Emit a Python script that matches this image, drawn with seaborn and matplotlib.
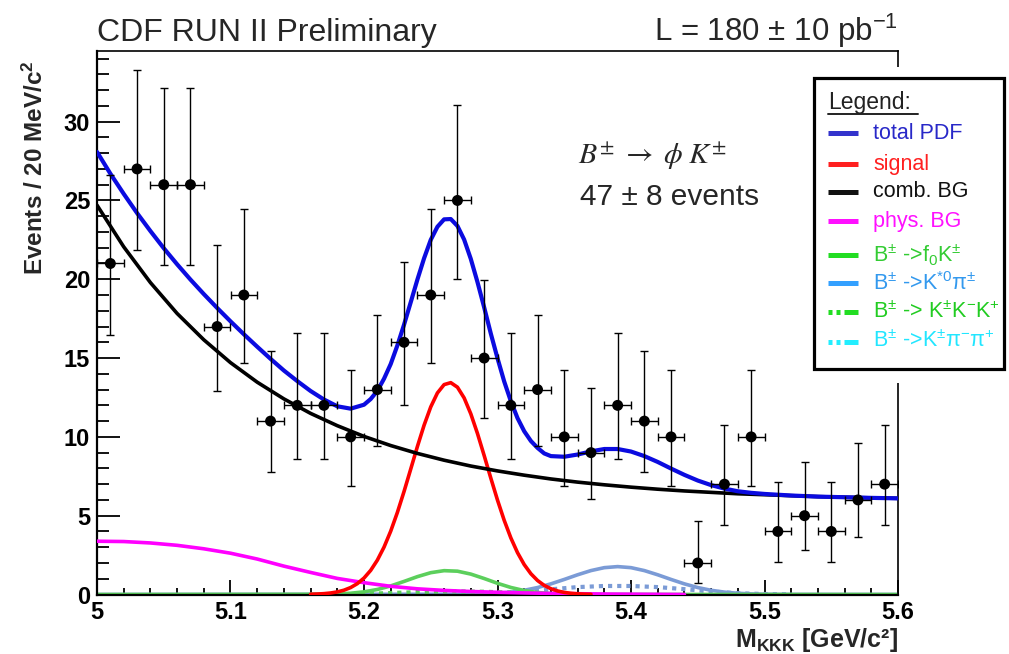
import matplotlib
matplotlib.use('Agg')
import matplotlib.pyplot as plt
import seaborn as sns
from matplotlib.patches import Rectangle
from matplotlib.lines import Line2D
from matplotlib.ticker import MultipleLocator, FixedLocator

# ---------------- data ----------------
bin_centers = [5.01, 5.03, 5.05, 5.07, 5.09, 5.11, 5.13, 5.15, 5.17, 5.19,
               5.21, 5.23, 5.25, 5.27, 5.29, 5.31, 5.33, 5.35, 5.37, 5.39,
               5.41, 5.43, 5.45, 5.47, 5.49, 5.51, 5.53, 5.55, 5.57, 5.59]
counts = [21, 27, 26, 26, 17, 19, 11, 12, 12, 10,
          13, 16, 19, 25, 15, 12, 13, 10, 9, 12,
          11, 10, 2, 7, 10, 4, 5, 4, 6, 7]
err_low = [4.55, 5.17, 5.07, 5.07, 4.08, 4.32, 3.26, 3.41, 3.41, 3.11,
           3.55, 3.95, 4.32, 4.97, 3.82, 3.41, 3.55, 3.11, 2.94, 3.41,
           3.26, 3.11, 1.29, 2.58, 3.11, 1.91, 2.16, 1.91, 2.38, 2.58]
err_high = [5.64, 6.26, 6.16, 6.16, 5.20, 5.43, 4.42, 4.57, 4.57, 4.27,
            4.71, 5.08, 5.43, 6.06, 4.96, 4.57, 4.71, 4.27, 4.11, 4.57,
            4.42, 4.27, 2.64, 3.77, 4.27, 3.16, 3.38, 3.16, 3.58, 3.77]
half_bin = 0.01

total_x = [5.00, 5.01, 5.02, 5.03, 5.04, 5.05, 5.06, 5.07, 5.08, 5.09, 5.10, 5.11, 5.12, 5.13,
           5.14, 5.15, 5.16, 5.17, 5.18, 5.19, 5.20,
           5.205, 5.21, 5.215, 5.22, 5.225, 5.23, 5.235, 5.24, 5.245, 5.25, 5.255, 5.26, 5.265,
           5.27, 5.275, 5.28, 5.285, 5.29, 5.295, 5.30, 5.305, 5.31, 5.315, 5.32, 5.325, 5.33, 5.335,
           5.34, 5.35, 5.36, 5.37, 5.38, 5.39, 5.40, 5.41, 5.42, 5.43, 5.44, 5.45, 5.46, 5.47,
           5.48, 5.49, 5.50, 5.52, 5.54, 5.56, 5.58, 5.60]
total_pdf = [28.08, 26.70, 25.42, 24.20, 23.06, 21.97, 20.95, 19.98, 19.06, 18.18, 17.33, 16.51,
             15.72, 14.95, 14.21, 13.54, 12.91, 12.37, 11.94, 11.79, 12.04,
             12.40, 12.92, 13.69, 14.62, 15.80, 17.12, 18.54, 19.98, 21.33, 22.50, 23.33, 23.80,
             23.82, 23.38, 22.52, 21.29, 19.82, 18.22, 16.55, 14.99, 13.52, 12.26, 11.19, 10.36,
             9.74, 9.30, 8.95,
             8.78, 8.74, 8.88, 9.08, 9.23, 9.23, 9.07, 8.78, 8.41, 7.99, 7.59, 7.23, 6.94, 6.72,
             6.55, 6.45, 6.38, 6.28, 6.21, 6.17, 6.13, 6.10]

comb_x = [5.00, 5.02, 5.04, 5.06, 5.08, 5.10, 5.12, 5.14, 5.16, 5.18, 5.20, 5.22, 5.24, 5.26,
          5.28, 5.30, 5.32, 5.34, 5.36, 5.38, 5.40, 5.42, 5.44, 5.46, 5.48, 5.50, 5.52, 5.54,
          5.56, 5.58, 5.60]
comb_bg = [24.70, 22.06, 19.79, 17.83, 16.16, 14.71, 13.47, 12.41, 11.49, 10.71, 10.03, 9.45,
           8.95, 8.52, 8.15, 7.84, 7.57, 7.33, 7.13, 6.96, 6.81, 6.68, 6.57, 6.48, 6.39, 6.33,
           6.27, 6.21, 6.17, 6.13, 6.10]

phys_x = [5.00, 5.02, 5.04, 5.06, 5.08, 5.10, 5.12, 5.14, 5.16, 5.18, 5.20, 5.22, 5.24, 5.26,
          5.28, 5.30, 5.32, 5.34, 5.36, 5.38, 5.40, 5.42, 5.44]
phys_bg = [3.38, 3.36, 3.27, 3.12, 2.90, 2.62, 2.25, 1.80, 1.40, 1.02, 0.75, 0.52, 0.36, 0.26,
           0.19, 0.14, 0.10, 0.07, 0.05, 0.03, 0.02, 0.01, 0.0]

signal_x = [5.160, 5.165, 5.170, 5.175, 5.180, 5.185, 5.190, 5.195, 5.200,
            5.205, 5.210, 5.215, 5.220, 5.225, 5.230, 5.235, 5.240, 5.245, 5.250,
            5.255, 5.260, 5.265, 5.270, 5.275, 5.280, 5.285, 5.290, 5.295, 5.300,
            5.305, 5.310, 5.315, 5.320, 5.325, 5.330, 5.335, 5.340, 5.345, 5.350,
            5.355, 5.360, 5.365, 5.370]
signal = [0.016, 0.030, 0.054, 0.096, 0.164, 0.273, 0.441, 0.689, 1.043,
          1.531, 2.179, 3.005, 4.017, 5.205, 6.537, 7.957, 9.388, 10.737, 11.902,
          12.787, 13.316, 13.44, 13.151, 12.472, 11.463, 10.214, 8.819, 7.381, 5.989,
          4.710, 3.590, 2.652, 1.899, 1.318, 0.887, 0.578, 0.366, 0.224, 0.133,
          0.077, 0.043, 0.023, 0.012]

f0k_x = [5.00, 5.17, 5.18, 5.19, 5.20, 5.21, 5.22, 5.23, 5.24, 5.25, 5.26, 5.27, 5.28, 5.29,
         5.30, 5.31, 5.32, 5.33, 5.34, 5.35, 5.36, 5.37, 5.60]
f0k = [0.0, 0.013, 0.033, 0.079, 0.168, 0.319, 0.544, 0.830, 1.133, 1.384, 1.512, 1.479, 1.295,
       1.014, 0.710, 0.446, 0.250, 0.126, 0.056, 0.023, 0.008, 0.003, 0.0]

kstar_x = [5.00, 5.28, 5.29, 5.30, 5.31, 5.32, 5.33, 5.34, 5.35, 5.36, 5.37, 5.38, 5.39, 5.40,
           5.41, 5.42, 5.43, 5.44, 5.45, 5.46, 5.47, 5.48, 5.49, 5.50, 5.51, 5.60]
kstar = [0.0, 0.017, 0.037, 0.078, 0.150, 0.267, 0.441, 0.675, 0.955, 1.251, 1.517, 1.703, 1.77,
         1.703, 1.517, 1.251, 0.955, 0.675, 0.441, 0.267, 0.150, 0.078, 0.037, 0.016, 0.006, 0.0]

kkk_x = [5.17, 5.19, 5.21, 5.23, 5.25, 5.27, 5.29, 5.31, 5.33, 5.35, 5.37]
kkk = [0.009, 0.027, 0.065, 0.121, 0.176, 0.200, 0.176, 0.121, 0.065, 0.027, 0.009]

kpipi_x = [5.28, 5.30, 5.32, 5.34, 5.36, 5.38, 5.40, 5.42, 5.44, 5.46, 5.48, 5.50, 5.52]
kpipi = [0.02, 0.08, 0.18, 0.33, 0.47, 0.54, 0.54, 0.47, 0.34, 0.19, 0.08, 0.03, 0.01]

x_ticks = [5.0, 5.1, 5.2, 5.3, 5.4, 5.5, 5.6]
x_tick_labels = ['5', '5.1', '5.2', '5.3', '5.4', '5.5', '5.6']
y_ticks = [0, 5, 10, 15, 20, 25, 30]
y_tick_labels = ['0', '5', '10', '15', '20', '25', '30']

legend_labels = ['total PDF', 'signal', 'comb. BG', 'phys. BG',
                 r'B$^{\pm}$ ->f$_{0}$K$^{\pm}$', r'B$^{\pm}$ ->K$^{*0}$π$^{\pm}$',
                 r'B$^{\pm}$ -> K$^{\pm}$K$^{-}$K$^{+}$', r'B$^{\pm}$ ->K$^{\pm}$π$^{-}$π$^{+}$']

# ---------------- style ----------------
sns.set_style('ticks')
plt.rcParams['font.family'] = ['Liberation Sans', 'DejaVu Sans']
plt.rcParams['mathtext.fontset'] = 'custom'
plt.rcParams['mathtext.rm'] = 'Liberation Sans'
plt.rcParams['mathtext.bf'] = 'Liberation Sans:bold'
plt.rcParams['mathtext.it'] = 'Liberation Sans:italic'
plt.rcParams['mathtext.sf'] = 'Liberation Sans'

W, H = 1009, 654
fig = plt.figure(figsize=(W / 100, H / 100), dpi=100)
fig.patch.set_facecolor('white')


def fx(px):
    return px / W


def fy(py):
    return 1 - py / H


ax = fig.add_axes([fx(97), fy(594.5), fx(898) - fx(97), fy(50.7) - fy(594.5)])
ax.set_facecolor('white')

c_total = '#0b0be0'
c_sig = '#ff0000'
c_phys = '#ff00ff'
c_f0 = '#5ccf5c'
c_kst = '#7b9bd6'

sns.lineplot(x=kstar_x, y=kstar, ax=ax, color=c_kst, linewidth=2.6, zorder=2)
sns.lineplot(x=kpipi_x, y=kpipi, ax=ax, color=c_kst, linewidth=3.0, linestyle=(0, (1.0, 1.2)), zorder=2)
sns.lineplot(x=f0k_x, y=f0k, ax=ax, color=c_f0, linewidth=2.6, zorder=2)
sns.lineplot(x=kkk_x, y=kkk, ax=ax, color=c_f0, linewidth=3.0, linestyle=(0, (1.0, 1.2)), zorder=2)
sns.lineplot(x=phys_x, y=phys_bg, ax=ax, color=c_phys, linewidth=2.6, zorder=3)
sns.lineplot(x=signal_x, y=signal, ax=ax, color=c_sig, linewidth=2.6, zorder=3)
sns.lineplot(x=comb_x, y=comb_bg, ax=ax, color='black', linewidth=2.6, zorder=3)
sns.lineplot(x=total_x, y=total_pdf, ax=ax, color=c_total, linewidth=3.0, zorder=4)

ax.errorbar(bin_centers, counts, xerr=half_bin, yerr=[err_low, err_high], fmt='none',
            ecolor='black', elinewidth=1.0, capsize=3.2, capthick=1.0, zorder=5)
sns.scatterplot(x=bin_centers, y=counts, ax=ax, color='black', s=62, edgecolor='none',
                zorder=6, legend=False)

ax.set_xlim(5.0, 5.6)
ax.set_ylim(0, 34.5)
ax.xaxis.set_major_locator(FixedLocator(x_ticks))
ax.set_xticklabels(x_tick_labels)
ax.xaxis.set_minor_locator(MultipleLocator(0.02))
ax.yaxis.set_major_locator(FixedLocator(y_ticks))
ax.set_yticklabels(y_tick_labels)
ax.yaxis.set_minor_locator(MultipleLocator(1))
ax.set_xlabel('')
ax.set_ylabel('')

ax.tick_params(axis='both', which='both', direction='in', top=False, right=False,
               color='black', labelcolor='black')
ax.tick_params(axis='y', which='major', length=16.5, width=1.3, pad=5, labelsize=17)
ax.tick_params(axis='y', which='minor', length=8.6, width=1.3)
ax.tick_params(axis='x', which='major', length=10.8, width=1.3, pad=5, labelsize=17)
ax.tick_params(axis='x', which='minor', length=5.2, width=1.3)
for lab in ax.get_xticklabels() + ax.get_yticklabels():
    lab.set_fontweight('bold')

for side in ['left', 'bottom']:
    ax.spines[side].set_linewidth(1.6)
for side in ['top', 'right']:
    ax.spines[side].set_linewidth(1.2)
for side in ax.spines:
    ax.spines[side].set_color('black')
    ax.spines[side].set_visible(True)

# titles and annotations
fig.text(fx(97), fy(41), 'CDF RUN II Preliminary', fontsize=23, va='baseline', ha='left')
fig.text(fx(898), fy(41), r'L = 180 $\pm$ 10 pb$^{-1}$', fontsize=22.5, va='baseline', ha='right')
fig.text(fx(578), fy(164), r'$B^{\pm}\;\rightarrow\;\phi\;K^{\pm}$', fontsize=21.5, va='baseline',
         ha='left', math_fontfamily='stix')
fig.text(fx(580), fy(205), '47 ± 8 events', fontsize=21.5, va='baseline', ha='left')

fig.text(fx(35), fy(60), r'Events / 20 MeV/c$^{\mathbf{2}}$', fontsize=17.5, fontweight='bold',
         rotation=90, ha='center', va='top')
fig.text(fx(898), fy(647), r'M$_{\mathbf{KKK}}$ [GeV/c²]', fontsize=18,
         fontweight='bold', ha='right', va='baseline')

# legend box (drawn as in the original pasted legend)
fig.add_artist(Rectangle((fx(803), fy(383)), fx(1009) - fx(803), fy(67) - fy(383),
                         transform=fig.transFigure, facecolor='white', edgecolor='none', zorder=10))
fig.add_artist(Rectangle((fx(814), fy(369)), fx(1004) - fx(814), fy(78) - fy(369),
                         transform=fig.transFigure, facecolor='white', edgecolor='black',
                         linewidth=2.3, zorder=11))
fig.text(fx(828), fy(102), 'Legend:', fontsize=16.5, color='#222222', ha='left', va='center',
         zorder=12)
fig.add_artist(Line2D([fx(828), fx(918)], [fy(113.5), fy(113.5)], transform=fig.transFigure,
                      color='#222222', linewidth=1.4, zorder=12))

row_y = [133.3, 164.3, 191.7, 221.0, 255.0, 283.3, 312.3, 341.7]
line_colors = ['#3333cc', '#ff2020', '#111111', '#ff10ff', '#22dd22', '#33a0ff', '#22dd22', '#22eeff']
text_colors = ['#2828c8', '#ff2020', '#111111', '#ff10ff', '#33cc33', '#3399ee', '#22cc22', '#22e6ff']
dash_pat = (0, (0.8, 0.8, 0.8, 0.8, 2.8, 0.8))
line_styles = ['-', '-', '-', '-', '-', '-', dash_pat, dash_pat]
for yy, lab, lc, tc, ls in zip(row_y, legend_labels, line_colors, text_colors, line_styles):
    fig.add_artist(Line2D([fx(828), fx(858)], [fy(yy), fy(yy)], transform=fig.transFigure,
                          color=lc, linewidth=3.6, linestyle=ls, solid_capstyle='butt',
                          dash_capstyle='butt', zorder=12))
    fig.text(fx(873), fy(yy), lab, fontsize=15.5, color=tc, ha='left', va='center', zorder=12)

fig.savefig('out.png', dpi=100, facecolor='white')
